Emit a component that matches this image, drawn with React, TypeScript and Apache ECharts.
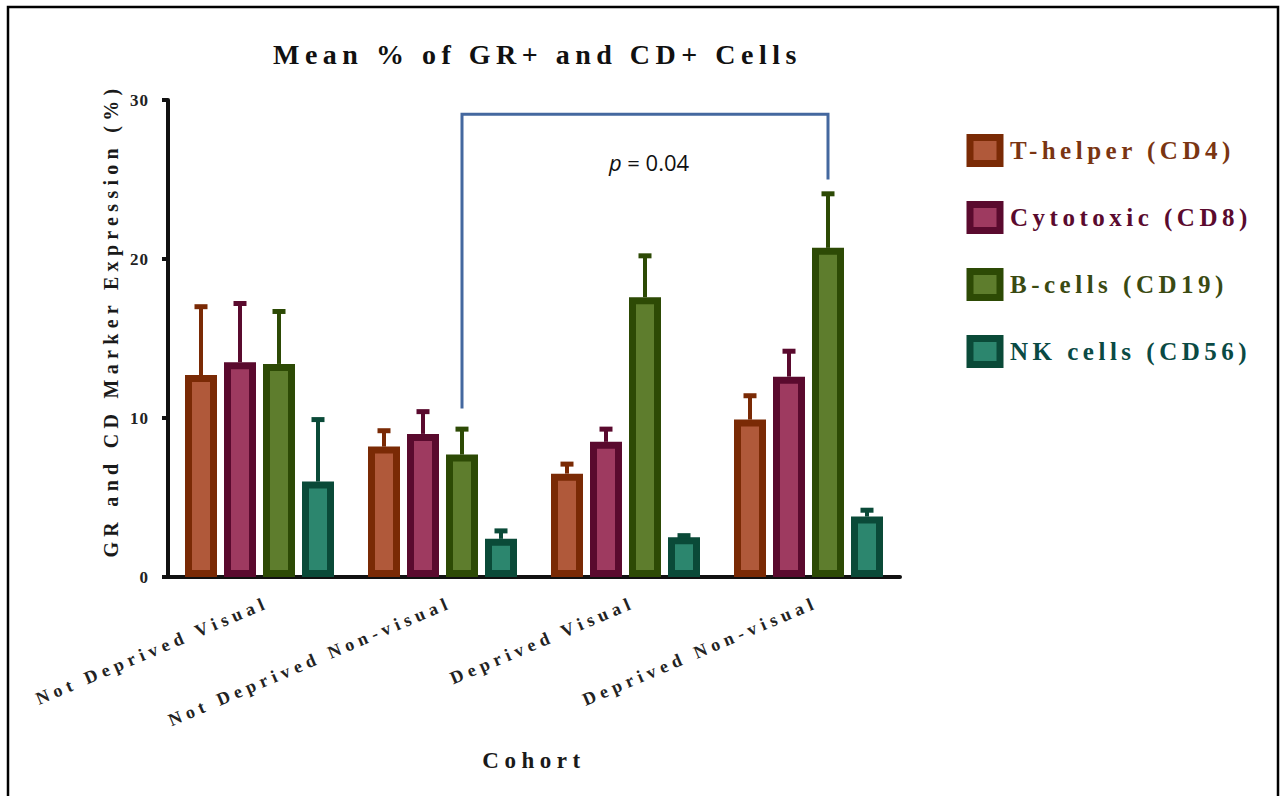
import React, { useEffect, useRef } from "react";
import * as echarts from "echarts";

// Cohorts on the x axis
const cohorts = [
  "Not Deprived Visual",
  "Not Deprived Non-visual",
  "Deprived Visual",
  "Deprived Non-visual",
];

// Cell populations (one bar series each)
const populations = [
  "T-helper (CD4)",
  "Cytotoxic (CD8)",
  "B-cells (CD19)",
  "NK cells (CD56)",
];

// Mean % per cohort
const meanCD4 = [12.7, 8.2, 6.5, 9.9];
const meanCD8 = [13.5, 9.0, 8.5, 12.6];
const meanCD19 = [13.4, 7.7, 17.6, 20.7];
const meanCD56 = [6.0, 2.4, 2.5, 3.8];

// Standard error per cohort
const semCD4 = [4.3, 1.0, 0.6, 1.5];
const semCD8 = [3.7, 1.4, 0.8, 1.6];
const semCD19 = [3.3, 1.6, 2.6, 3.4];
const semCD56 = [3.9, 0.5, 0.1, 0.4];

const yTicks = [0, 10, 20, 30];

// Significance bracket between two B-cell bars
const bracketSeries = 2;
const bracketFrom = 1;
const bracketTo = 3;
const bracketTop = 29.1;
const bracketLeftEnd = 10.6;
const bracketRightEnd = 25.0;
const bracketLabelAt = 26.1;
const pValue = "0.04";

const means = [meanCD4, meanCD8, meanCD19, meanCD56];
const sems = [semCD4, semCD8, semCD19, semCD56];

const FILL = ["#b0593a", "#9e3a60", "#5e7d2d", "#2c866e"];
const EDGE = ["#7a2a05", "#5a0a2e", "#2d4a05", "#0a4a38"];
const TEXT = ["#7a3512", "#5a0a2e", "#3a4a12", "#0a4a44"];

const SERIF = "'Liberation Serif', 'Times New Roman', serif";
const SANS = "'Open Sans', 'Liberation Sans', sans-serif";
const BAR_W = 32;
const BAR_GAP = 7;

const slotOffset = (s: number) =>
  (s - (populations.length - 1) / 2) * (BAR_W + BAR_GAP);

const figureCss = `
.fig text[style*="28px"] { letter-spacing: 5.5px; }
.fig text[style*="25px"] { letter-spacing: 4.5px; }
.fig text[style*="23px"] { letter-spacing: 5.5px; }
.fig text[style*="20px"] { letter-spacing: 5.3px; }
.fig text[style*="18px"] { letter-spacing: 5px; }
.fig text[style*="17px"] { letter-spacing: 1px; }
`;

export default function App() {
  const ref = useRef<HTMLDivElement>(null);

  useEffect(() => {
    if (!ref.current) return;
    const chart = echarts.init(ref.current, undefined, { renderer: "svg" });

    const errorData: number[][] = [];
    means.forEach((arr, s) =>
      arr.forEach((m, c) => errorData.push([c, s, m, sems[s][c]]))
    );

    const barSeries = populations.map((name, s) => ({
      name,
      type: "bar",
      data: means[s],
      barWidth: BAR_W,
      barGap: `${(BAR_GAP / BAR_W) * 100}%`,
      itemStyle: { color: FILL[s], borderColor: EDGE[s], borderWidth: 7 },
      emphasis: { disabled: true },
      z: 2,
    }));

    const option: any = {
      animation: false,
      backgroundColor: "#ffffff",
      title: {
        text: "Mean % of GR+ and CD+ Cells",
        left: 268,
        top: 35,
        textStyle: {
          fontFamily: SERIF,
          fontWeight: "bold",
          fontSize: 28,
          color: "#111",
        },
      },
      legend: {
        orient: "vertical",
        left: 961.5,
        top: 129,
        icon: "rect",
        itemWidth: 30,
        itemHeight: 26,
        itemGap: 34,
        selectedMode: false,
        itemStyle: { borderWidth: 7 },
        textStyle: {
          fontFamily: SERIF,
          fontWeight: "bold",
          fontSize: 25,
          padding: [0, 0, 0, 5],
        },
        data: populations.map((name, s) => ({
          name,
          textStyle: { color: TEXT[s] },
        })),
      },
      grid: { left: 168, right: 386, top: 100, bottom: 219, containLabel: false },
      xAxis: {
        type: "category",
        data: cohorts,
        name: "Cohort",
        nameLocation: "middle",
        nameGap: 172,
        nameTextStyle: {
          fontFamily: SERIF,
          fontWeight: "bold",
          fontSize: 23,
          color: "#1a1a1a",
        },
        axisLine: { lineStyle: { color: "#111", width: 4 } },
        axisTick: {
          alignWithLabel: true,
          length: 6,
          lineStyle: { color: "#111", width: 4 },
        },
        axisLabel: {
          rotate: 23,
          margin: 28,
          interval: 0,
          fontFamily: SERIF,
          fontWeight: "bold",
          fontSize: 18,
          color: "#222",
          padding: [0, -9, 0, 0],
        },
      },
      yAxis: {
        type: "value",
        min: yTicks[0],
        max: yTicks[yTicks.length - 1],
        interval: yTicks[1] - yTicks[0],
        name: "GR and CD Marker Expression (%)",
        nameLocation: "middle",
        nameGap: 38,
        nameTextStyle: {
          fontFamily: SERIF,
          fontWeight: "bold",
          fontSize: 20,
          color: "#1a1a1a",
          padding: [0, 0, 0, 36],
        },
        axisLine: { show: true, lineStyle: { color: "#111", width: 4 } },
        axisTick: { show: true, length: 6, lineStyle: { color: "#111", width: 4 } },
        axisLabel: {
          margin: 19,
          fontFamily: SERIF,
          fontWeight: "bold",
          fontSize: 17,
          color: "#222",
        },
        splitLine: { show: false },
      },
      graphic: [
        {
          type: "rect",
          shape: { x: 8, y: 7, width: 1270, height: 800 },
          style: { fill: "none", stroke: "#000", lineWidth: 2.5 },
          silent: true,
        },
      ],
      series: [
        ...barSeries,
        {
          type: "custom",
          name: "error",
          data: errorData,
          encode: { x: 0, y: 2 },
          z: 3,
          silent: true,
          renderItem: (_params: any, api: any) => {
            const c = api.value(0);
            const s = api.value(1);
            const m = api.value(2);
            const e = api.value(3);
            const base = api.coord([c, m]);
            const top = api.coord([c, m + e]);
            const x = base[0] + slotOffset(s);
            return {
              type: "group",
              children: [
                {
                  type: "line",
                  shape: { x1: x, y1: base[1], x2: x, y2: top[1] },
                  style: { stroke: EDGE[s], lineWidth: 4 },
                },
                {
                  type: "line",
                  shape: { x1: x - 6.5, y1: top[1], x2: x + 6.5, y2: top[1] },
                  style: { stroke: EDGE[s], lineWidth: 5 },
                },
              ],
            };
          },
        },
        {
          type: "custom",
          name: "bracket",
          data: [[bracketFrom, bracketTo, bracketTop, bracketLeftEnd, bracketRightEnd, bracketLabelAt]],
          encode: { x: [0, 1], y: [2, 3, 4] },
          z: 4,
          silent: true,
          renderItem: (_params: any, api: any) => {
            const from = api.value(0);
            const to = api.value(1);
            const top = api.value(2);
            const off = slotOffset(bracketSeries);
            const pL = api.coord([from, api.value(3)]);
            const pT1 = api.coord([from, top]);
            const pT2 = api.coord([to, top]);
            const pR = api.coord([to, api.value(4)]);
            const pLab = api.coord([from, api.value(5)]);
            const midX = (pT1[0] + pT2[0]) / 2 + off;
            return {
              type: "group",
              children: [
                {
                  type: "polyline",
                  shape: {
                    points: [
                      [pL[0] + off, pL[1]],
                      [pT1[0] + off, pT1[1]],
                      [pT2[0] + off, pT2[1]],
                      [pR[0] + off, pR[1]],
                    ],
                  },
                  style: { stroke: "#44689f", lineWidth: 3, fill: "none" },
                },
                {
                  type: "text",
                  x: midX + 4,
                  y: pLab[1],
                  style: {
                    text: `{i|p} = ${pValue}`,
                    align: "center",
                    verticalAlign: "middle",
                    fontFamily: SANS,
                    fontSize: 22,
                    fill: "#111",
                    rich: {
                      i: {
                        fontStyle: "italic",
                        fontFamily: SANS,
                        fontSize: 22,
                        fill: "#111",
                      },
                    },
                  },
                },
              ],
            };
          },
        },
      ],
    };

    chart.setOption(option);
    return () => chart.dispose();
  }, []);

  return (
    <>
      <style>{figureCss}</style>
      <div
        ref={ref}
        className="fig"
        style={{
          position: "absolute",
          left: 0,
          top: 0,
          width: 1286,
          height: 796,
          background: "#fff",
        }}
      />
    </>
  );
}
